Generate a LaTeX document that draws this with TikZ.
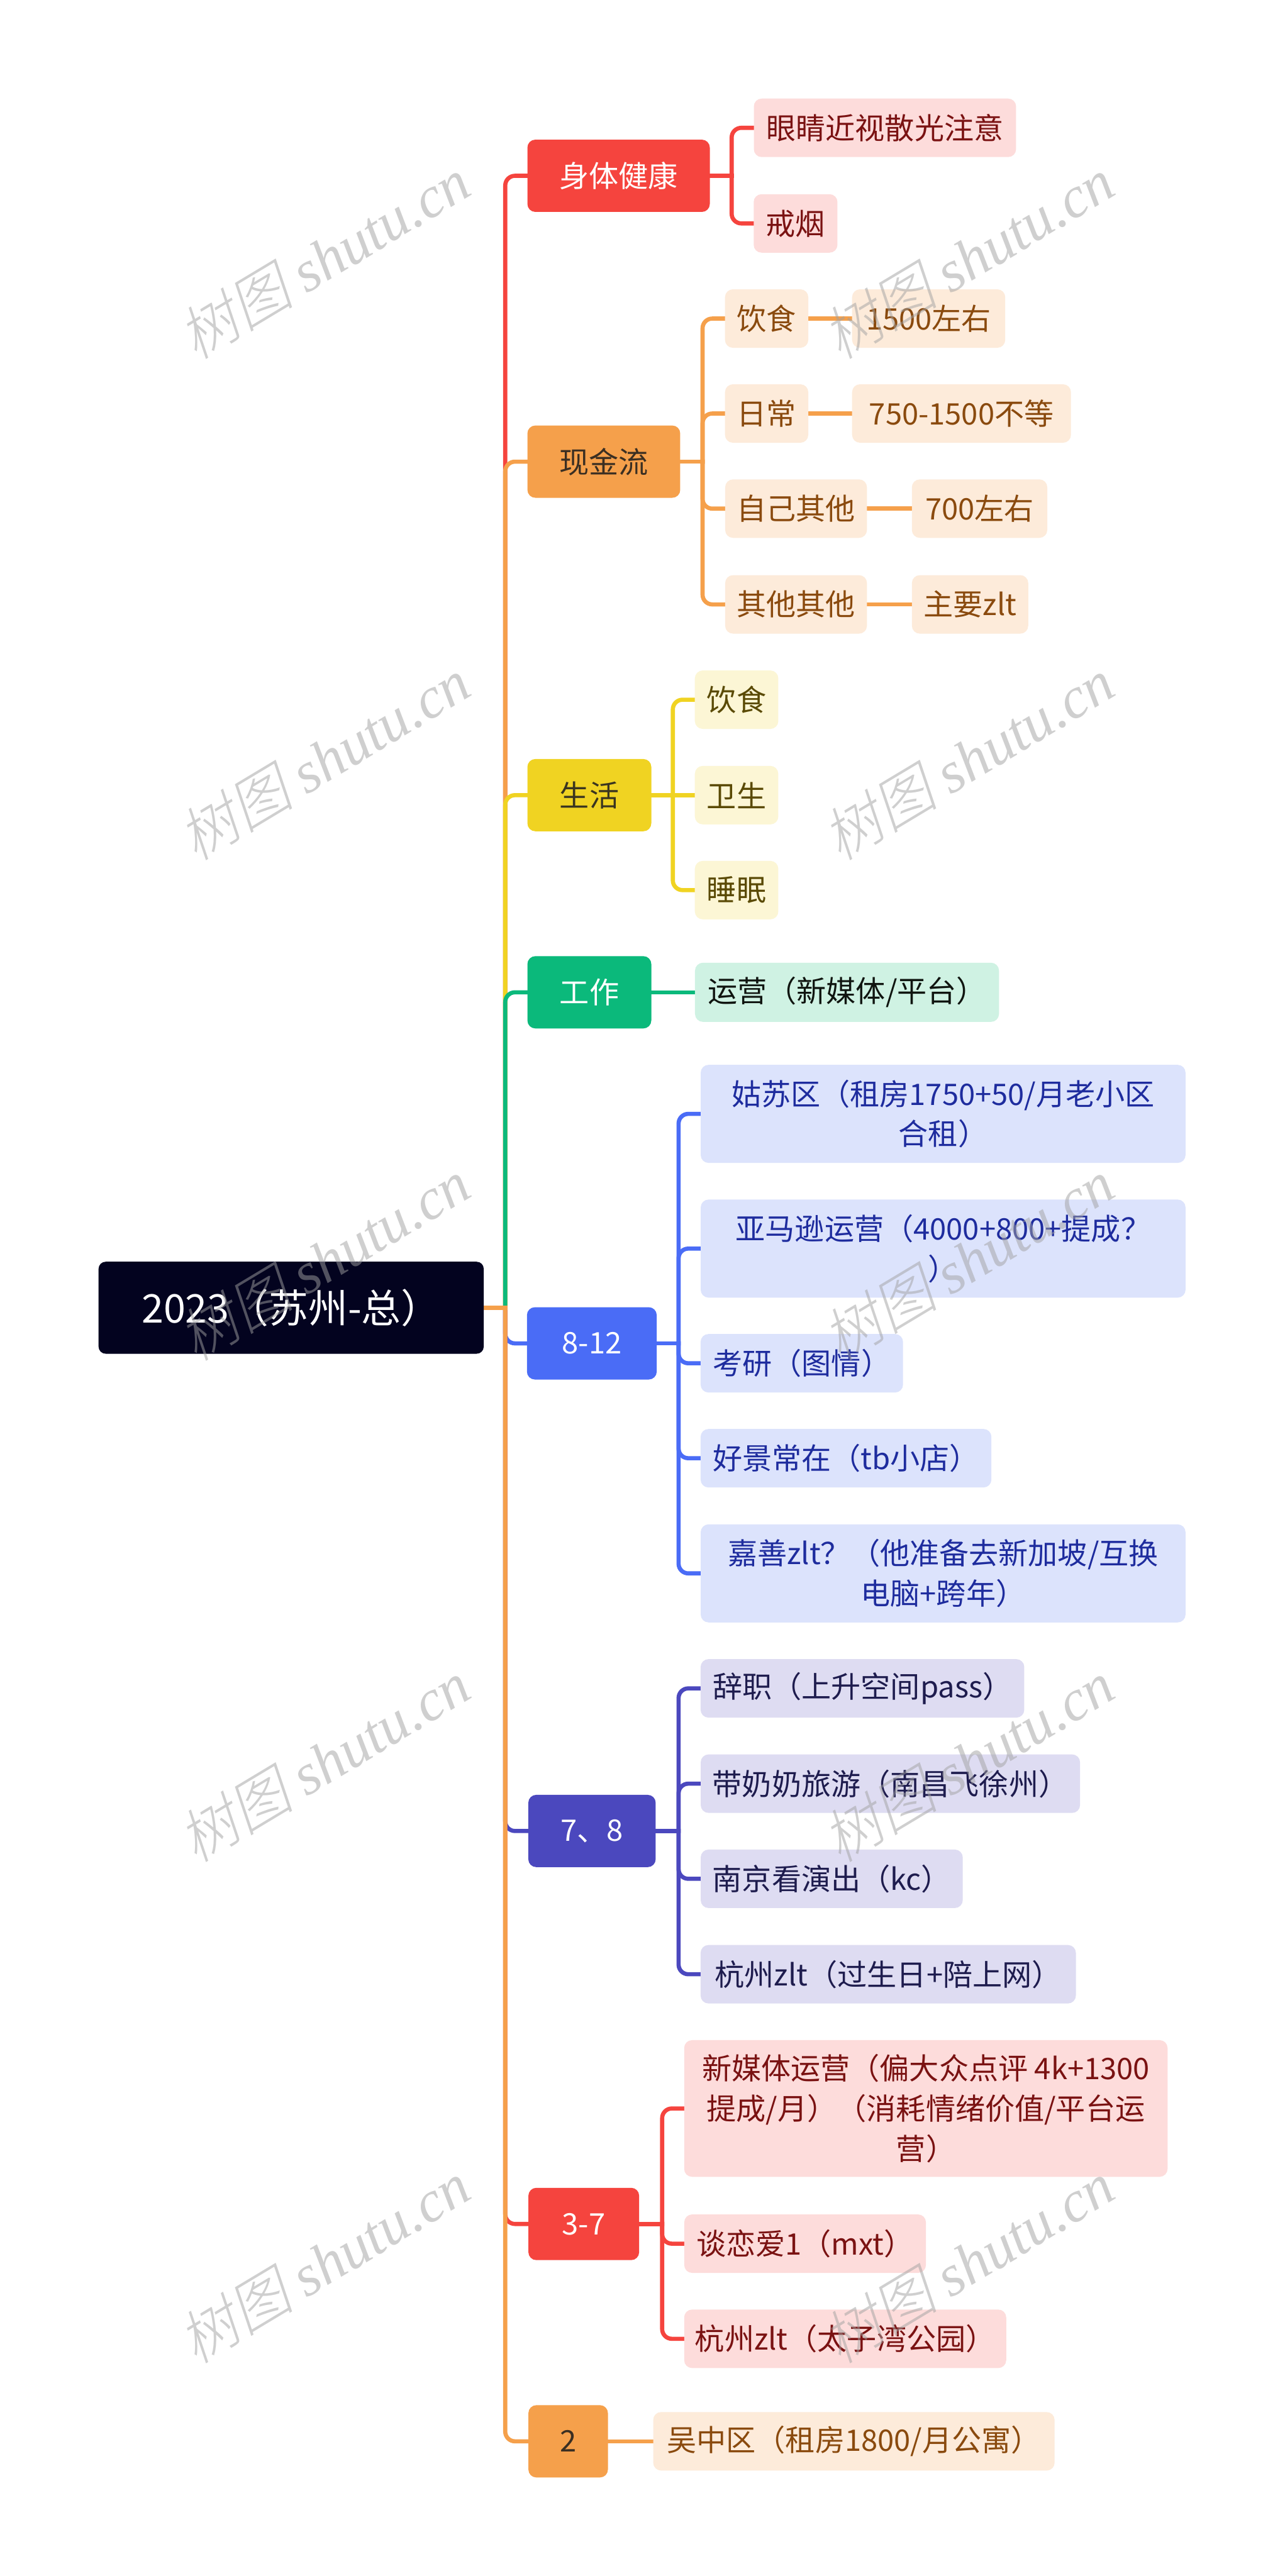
\documentclass[tikz,border=0pt]{standalone}
\usepackage{fontspec}
\setmainfont{Noto Sans CJK SC}
\newfontfamily\wmcjk[FakeSlant=0.22]{Noto Sans CJK SC Light}
\newfontfamily\wmlat{Liberation Serif}
\usetikzlibrary{backgrounds}
\newlength\uu \setlength\uu{0.032737cm}
\newcommand\fsA{\fontsize{16.8pt}{22.7pt}\selectfont}
\newcommand\fsR{\fontsize{22.4pt}{26pt}\selectfont}
\newcommand\fsW{\fontsize{33pt}{36pt}\selectfont}
\definecolor{cRed}{HTML}{F5443E}
\definecolor{cRedL}{HTML}{FDDCDB}
\definecolor{cRedT}{HTML}{7A1212}
\definecolor{cOrg}{HTML}{F5A04B}
\definecolor{cOrgL}{HTML}{FDEBDA}
\definecolor{cOrgT}{HTML}{8A4A0E}
\definecolor{cOrgD}{HTML}{3B2F22}
\definecolor{cYel}{HTML}{F0D322}
\definecolor{cYelL}{HTML}{FCF6D5}
\definecolor{cYelT}{HTML}{5A4A05}
\definecolor{cYelD}{HTML}{3A3520}
\definecolor{cGrn}{HTML}{0BB97B}
\definecolor{cGrnL}{HTML}{CFF2E3}
\definecolor{cGrnT}{HTML}{101510}
\definecolor{cBlu}{HTML}{4A6CF6}
\definecolor{cBluL}{HTML}{DCE3FC}
\definecolor{cBluT}{HTML}{1E2C9E}
\definecolor{cPur}{HTML}{4B48BE}
\definecolor{cPurL}{HTML}{DEDCF2}
\definecolor{cPurT}{HTML}{1E1C4E}
\definecolor{cRoot}{HTML}{03031F}
\begin{document}
\begin{tikzpicture}[x=\uu,y=-\uu,
  conn/.style={line width=2.35pt, line cap=rect},
  rc/.style={rounded corners=5.5pt},
  lone/.style={rounded corners=4.5pt, inner sep=0pt, minimum height=44*\uu, font=\fsA},
  ltwo/.style={rounded corners=4.5pt, inner sep=0pt, minimum height=35.6*\uu, font=\fsA, align=center},
  wm/.style={text=black!37, opacity=0.5, font=\fsW, rotate=31, inner sep=0pt}]
\useasboundingbox (0,0) rectangle (782,1568);

% root
\node[rounded corners=4pt, fill=cRoot, text=white, font=\fsR, inner sep=0pt,
  minimum width=234.4*\uu, minimum height=56*\uu] (root) at (177.2,796) {2023（苏州-总）};

% level 1
\node[lone, fill=cRed, text=white, minimum width=111*\uu] (n1) at (376.5,107) {身体健康};
\node[lone, fill=cOrg, text=cOrgD, minimum width=93*\uu] (n2) at (367.5,281) {现金流};
\node[lone, fill=cYel, text=cYelD, minimum width=75.4*\uu] (n3) at (358.7,484) {生活};
\node[lone, fill=cGrn, text=white, minimum width=75.4*\uu] (n4) at (358.7,604) {工作};
\node[lone, fill=cBlu, text=white, minimum width=79*\uu] (n5) at (360.2,817.7) {8-12};
\node[lone, fill=cPur, text=white, minimum width=77.5*\uu] (n6) at (360.3,1114.5) {7、8};
\node[lone, fill=cRed, text=white, minimum width=67.4*\uu] (n7) at (355.3,1353.7) {3-7};
\node[lone, fill=cOrg, text=cOrgD, minimum width=48.4*\uu] (n8) at (345.8,1486) {2};

% level 2: health
\node[ltwo, fill=cRedL, text=cRedT, minimum width=159.6*\uu] (n1a) at (538.6,77.8) {眼睛近视散光注意};
\node[ltwo, fill=cRedL, text=cRedT, minimum width=51*\uu] (n1b) at (484.2,136) {戒烟};
% cash flow
\node[ltwo, fill=cOrgL, text=cOrgT, minimum width=50.7*\uu] (n2a) at (466.6,193.9) {饮食};
\node[ltwo, fill=cOrgL, text=cOrgT, minimum width=93.2*\uu] (n2a1) at (565.2,193.9) {1500左右};
\node[ltwo, fill=cOrgL, text=cOrgT, minimum width=50.7*\uu] (n2b) at (466.6,251.7) {日常};
\node[ltwo, fill=cOrgL, text=cOrgT, minimum width=133.2*\uu] (n2b1) at (585.2,251.7) {750-1500不等};
\node[ltwo, fill=cOrgL, text=cOrgT, minimum width=86.3*\uu] (n2c) at (484.5,309.6) {自己其他};
\node[ltwo, fill=cOrgL, text=cOrgT, minimum width=82.4*\uu] (n2c1) at (596.2,309.6) {700左右};
\node[ltwo, fill=cOrgL, text=cOrgT, minimum width=86.3*\uu] (n2d) at (484.5,367.9) {其他其他};
\node[ltwo, fill=cOrgL, text=cOrgT, minimum width=70.8*\uu] (n2d1) at (590.4,367.9) {主要zlt};
% life
\node[ltwo, fill=cYelL, text=cYelT, minimum width=50.8*\uu] (n3a) at (448.3,425.9) {饮食};
\node[ltwo, fill=cYelL, text=cYelT, minimum width=50.8*\uu] (n3b) at (448.3,484) {卫生};
\node[ltwo, fill=cYelL, text=cYelT, minimum width=50.8*\uu] (n3c) at (448.3,541.8) {睡眠};
% work
\node[ltwo, fill=cGrnL, text=cGrnT, minimum width=185*\uu, minimum height=36*\uu] (n4a) at (515.5,604) {运营（新媒体/平台）};
% 8-12
\node[ltwo, fill=cBluL, text=cBluT, minimum width=295.1*\uu, minimum height=59.7*\uu] (n5a) at (574,678) {姑苏区（租房1750+50/月老小区\\合租）};
\node[ltwo, fill=cBluL, text=cBluT, minimum width=295.1*\uu, minimum height=59.7*\uu] (n5b) at (574,760) {亚马逊运营（4000+800+提成？\\）};
\node[ltwo, fill=cBluL, text=cBluT, minimum width=123.2*\uu] (n5c) at (488,829.8) {考研（图情）};
\node[ltwo, fill=cBluL, text=cBluT, minimum width=177*\uu] (n5d) at (514.9,887.6) {好景常在（tb小店）};
\node[ltwo, fill=cBluL, text=cBluT, minimum width=295.1*\uu, minimum height=59.7*\uu] (n5e) at (574,957.7) {嘉善zlt？（他准备去新加坡/互换\\电脑+跨年）};
% 7,8
\node[ltwo, fill=cPurL, text=cPurT, minimum width=197*\uu] (n6a) at (524.9,1027.7) {辞职（上升空间pass）};
\node[ltwo, fill=cPurL, text=cPurT, minimum width=230.9*\uu] (n6b) at (541.9,1085.7) {带奶奶旅游（南昌飞徐州）};
\node[ltwo, fill=cPurL, text=cPurT, minimum width=159.5*\uu] (n6c) at (506.2,1143.6) {南京看演出（kc）};
\node[ltwo, fill=cPurL, text=cPurT, minimum width=228.4*\uu] (n6d) at (540.6,1201.7) {杭州zlt（过生日+陪上网）};
% 3-7
\node[ltwo, fill=cRedL, text=cRedT, minimum width=294.2*\uu, minimum height=83.2*\uu] (n7a) at (563.5,1283.4) {新媒体运营（偏大众点评 4k+1300\\提成/月）（消耗情绪价值/平台运\\营）};
\node[ltwo, fill=cRedL, text=cRedT, minimum width=147.1*\uu] (n7b) at (490,1365.7) {谈恋爱1（mxt）};
\node[ltwo, fill=cRedL, text=cRedT, minimum width=196*\uu] (n7c) at (514.4,1423.6) {杭州zlt（太子湾公园）};
% 2
\node[ltwo, fill=cOrgL, text=cOrgT, minimum width=244.3*\uu] (n8a) at (519.7,1486) {吴中区（租房1800/月公寓）};

\begin{scope}[on background layer]
  \fill[white] (0,0) rectangle (782,1568);
  % trunk from root
  \coordinate (T) at (307.5,796);
  \foreach \n/\c in {n1/cRed,n2/cOrg,n3/cYel,n4/cGrn,n5/cBlu,n6/cPur,n7/cRed,n8/cOrg}{
    \draw[conn,\c] (root.east) -- (T);
    \draw[conn,\c,rc] (T) -- (T |- \n.west) -- (\n.west);
  }
  % health
  \coordinate (b1) at (445.3,107);
  \foreach \n in {n1a,n1b}{
    \draw[conn,cRed] (n1.east) -- (n1.east -| b1);
    \draw[conn,cRed,rc] (n1.east -| b1) -- (b1 |- \n.west) -- (\n.west);
  }
  % cash flow
  \coordinate (b2) at (427.6,281);
  \foreach \n in {n2a,n2b,n2c,n2d}{
    \draw[conn,cOrg] (n2.east) -- (n2.east -| b2);
    \draw[conn,cOrg,rc] (n2.east -| b2) -- (b2 |- \n.west) -- (\n.west);
  }
  \draw[conn,cOrg] (n2a.east) -- (n2a1.west);
  \draw[conn,cOrg] (n2b.east) -- (n2b1.west);
  \draw[conn,cOrg] (n2c.east) -- (n2c1.west);
  \draw[conn,cOrg] (n2d.east) -- (n2d1.west);
  % life
  \coordinate (b3) at (409.5,484);
  \foreach \n in {n3a,n3c}{
    \draw[conn,cYel] (n3.east) -- (n3.east -| b3);
    \draw[conn,cYel,rc] (n3.east -| b3) -- (b3 |- \n.west) -- (\n.west);
  }
  \draw[conn,cYel] (n3.east) -- (n3b.west);
  % work
  \draw[conn,cGrn] (n4.east) -- (n4a.west);
  % 8-12
  \coordinate (b5) at (413,817.7);
  \foreach \n in {n5a,n5b,n5c,n5d,n5e}{
    \draw[conn,cBlu] (n5.east) -- (n5.east -| b5);
    \draw[conn,cBlu,rc] (n5.east -| b5) -- (b5 |- \n.west) -- (\n.west);
  }
  % 7,8
  \coordinate (b6) at (413,1114.5);
  \foreach \n in {n6a,n6b,n6c,n6d}{
    \draw[conn,cPur] (n6.east) -- (n6.east -| b6);
    \draw[conn,cPur,rc] (n6.east -| b6) -- (b6 |- \n.west) -- (\n.west);
  }
  % 3-7
  \coordinate (b7) at (403,1353.7);
  \foreach \n in {n7a,n7b,n7c}{
    \draw[conn,cRed] (n7.east) -- (n7.east -| b7);
    \draw[conn,cRed,rc] (n7.east -| b7) -- (b7 |- \n.west) -- (\n.west);
  }
  % 2
  \draw[conn,cOrg] (n8.east) -- (n8a.west);
\end{scope}

% watermarks
\foreach \yy [count=\i] in {157,462,767,1072,1377}{
  \node[wm] (wl\i) at (197,\yy) {{\wmcjk 树图} {\wmlat\itshape shutu.cn}};
  \node[wm] (wr\i) at (589,\yy) {{\wmcjk 树图} {\wmlat\itshape shutu.cn}};
}
\end{tikzpicture}
\end{document}
